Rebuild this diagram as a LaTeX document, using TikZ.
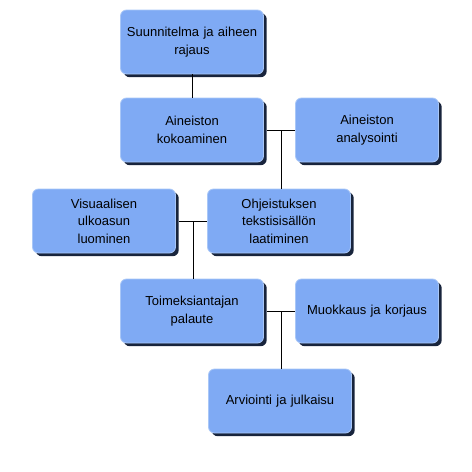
\documentclass[tikz,border=0pt]{standalone}
\usepackage{fontspec}
\setmainfont{Liberation Sans}
\usetikzlibrary{shadows,calc}
\definecolor{boxblue}{HTML}{7FAAF4}
\definecolor{edgedark}{HTML}{18243C}
\definecolor{hilite}{HTML}{A9C7F7}
\tikzset{
  stagebox/.style={rounded corners=6pt, fill=boxblue, draw=hilite, line width=0.8pt,
    minimum width=143pt, minimum height=64pt, inner sep=2pt,
    align=center, text width=138pt,
    font=\fontsize{13pt}{17.5pt}\selectfont,
    general shadow={fill=edgedark, shadow xshift=3.2pt, shadow yshift=-3.2pt}},
  conn/.style={draw=black, line width=0.9pt}
}
\begin{document}
\begin{tikzpicture}[x=1pt,y=-1pt]
\useasboundingbox[fill=white] (0,0) rectangle (472,472);
\node[stagebox] (b1) at (192,42) {Suunnitelma ja aiheen\\rajaus};
\node[stagebox] (b2) at (192,130) {Aineiston\\kokoaminen};
\node[stagebox] (b3) at (367,130) {Aineiston\\analysointi};
\node[stagebox] (b4) at (104,221) {Visuaalisen\\ulkoasun\\luominen};
\node[stagebox] (b5) at (279,221) {Ohjeistuksen\\tekstisisällön\\laatiminen};
\node[stagebox] (b6) at (192,311) {Toimeksiantajan\\palaute};
\node[stagebox] (b7) at (367,311) {Muokkaus ja korjaus};
\node[stagebox] (b8) at (280,401) {Arviointi ja julkaisu};
\coordinate (j1) at ($(b2.east)!0.5!(b3.west)+(1.5,0)$);
\coordinate (j2) at ($(b4.east)!0.5!(b5.west)+(1.5,0)$);
\coordinate (j3) at ($(b6.east)!0.5!(b7.west)+(1.5,0)$);
\draw[conn] (b1.south) -- (b2.north);
\draw[conn] ([xshift=3.2pt]b2.east) -- (b3.west);
\draw[conn] (j1) -- (j1 |- b5.north);
\draw[conn] ([xshift=3.2pt]b4.east) -- (b5.west);
\draw[conn] (j2) -- (j2 |- b6.north);
\draw[conn] ([xshift=3.2pt]b6.east) -- (b7.west);
\draw[conn] (j3) -- (j3 |- b8.north);
\end{tikzpicture}
\end{document}
